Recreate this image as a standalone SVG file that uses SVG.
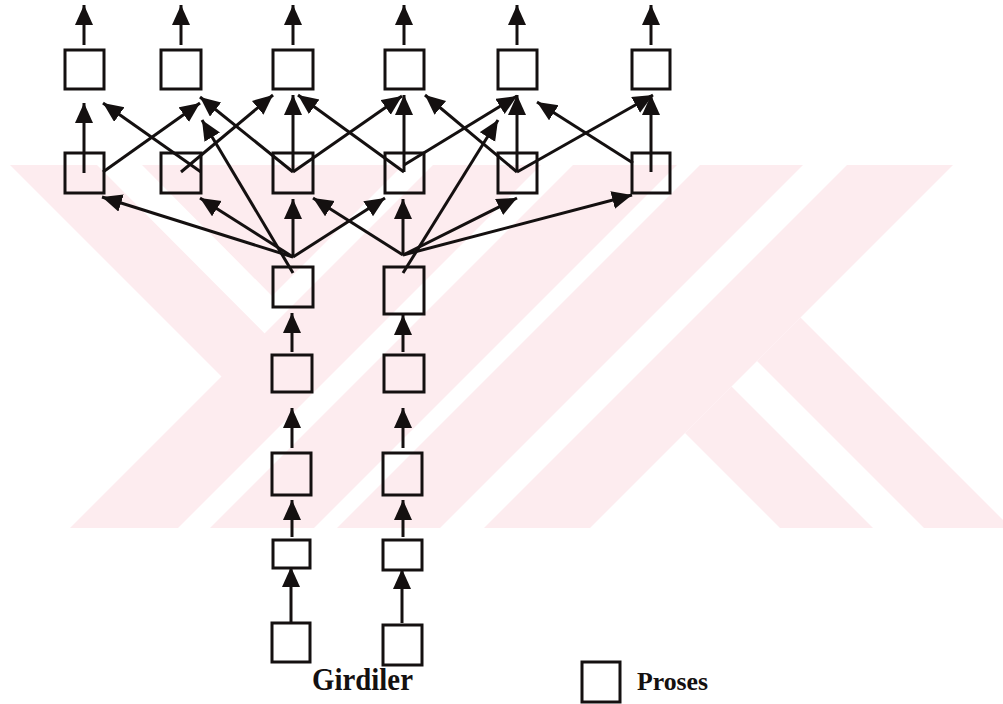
<svg xmlns="http://www.w3.org/2000/svg" width="1003" height="704" viewBox="0 0 1003 704">
  <style>
    .wm { fill: #fdecef; stroke: none; }
    .box { fill: none; stroke: #141010; stroke-width: 3; }
    .ln { fill: none; stroke: #141010; stroke-width: 3; marker-end: url(#ah); }
    .lbl { font-family: "Liberation Serif", "Times New Roman", serif; font-weight: bold; fill: #141010; }
  </style>
  <defs>
    <marker id="ah" markerUnits="userSpaceOnUse" markerWidth="22" markerHeight="20" refX="20" refY="9" orient="auto">
      <path d="M0,0 L20,9 L0,18 z" fill="#141010"/>
    </marker>
  </defs>

  <rect width="1003" height="704" fill="#ffffff"/>

  <!-- background emblem, drawn as 45-degree bands -->
  <g id="watermark">
    <polygon class="wm" points="10,165 97,165 316,385 273,428"/>
    <polygon class="wm" points="142,165 403,165 272,296"/>
    <polygon class="wm" points="433,165 541,165 178,528 70,528"/>
    <polygon class="wm" points="573,165 677,165 314,528 210,528"/>
    <polygon class="wm" points="700,165 803,165 440,528 337,528"/>
    <polygon class="wm" points="847,165 953,165 590,528 484,528"/>
    <polygon class="wm" points="685,433 731.5,386.5 873,528 780,528"/>
    <polygon class="wm" points="757,361 800.5,317.5 1003,520 1003,528 924,528"/>
  </g>

  <g id="connectors">
    <!-- outputs of the top layer -->
    <line class="ln" x1="84" y1="45" x2="84" y2="5"/>
    <line class="ln" x1="181" y1="45" x2="181" y2="5"/>
    <line class="ln" x1="293" y1="45" x2="293" y2="5"/>
    <line class="ln" x1="404" y1="45" x2="404" y2="5"/>
    <line class="ln" x1="517" y1="45" x2="517" y2="5"/>
    <line class="ln" x1="651" y1="45" x2="651" y2="5"/>

    <!-- second layer to top layer -->
    <line class="ln" x1="84" y1="173" x2="84" y2="103"/>
    <line class="ln" x1="103" y1="172" x2="200" y2="103"/>
    <line class="ln" x1="201" y1="172" x2="103" y2="103"/>
    <line class="ln" x1="181" y1="172" x2="273" y2="95"/>
    <line class="ln" x1="293" y1="172" x2="293" y2="95"/>
    <line class="ln" x1="293" y1="172" x2="200" y2="97"/>
    <line class="ln" x1="293" y1="172" x2="402" y2="96"/>
    <line class="ln" x1="404" y1="172" x2="404" y2="95"/>
    <line class="ln" x1="404" y1="172" x2="298" y2="95"/>
    <line class="ln" x1="404" y1="165" x2="517" y2="96"/>
    <line class="ln" x1="517" y1="172" x2="517" y2="95"/>
    <line class="ln" x1="517" y1="172" x2="425" y2="95"/>
    <line class="ln" x1="517" y1="172" x2="653" y2="95"/>
    <line class="ln" x1="651" y1="172" x2="651" y2="95"/>
    <line class="ln" x1="633" y1="163" x2="537" y2="102"/>

    <!-- long links from the third layer -->
    <line class="ln" x1="293" y1="273" x2="202" y2="120"/>
    <line class="ln" x1="403" y1="273" x2="498" y2="120"/>

    <!-- fan-out of the third layer -->
    <line class="ln" x1="293" y1="257" x2="102" y2="197"/>
    <line class="ln" x1="293" y1="257" x2="200" y2="198"/>
    <line class="ln" x1="293" y1="257" x2="293" y2="199"/>
    <line class="ln" x1="293" y1="257" x2="385" y2="198"/>
    <line class="ln" x1="403" y1="255" x2="313" y2="198"/>
    <line class="ln" x1="403" y1="255" x2="403" y2="199"/>
    <line class="ln" x1="403" y1="255" x2="517" y2="198"/>
    <line class="ln" x1="403" y1="255" x2="632" y2="195"/>

    <!-- input chains -->
    <line class="ln" x1="292" y1="352" x2="292" y2="313"/>
    <line class="ln" x1="403" y1="352" x2="403" y2="315"/>
    <line class="ln" x1="292" y1="448" x2="292" y2="408"/>
    <line class="ln" x1="403" y1="448" x2="403" y2="408"/>
    <line class="ln" x1="292" y1="537" x2="292" y2="500"/>
    <line class="ln" x1="403" y1="537" x2="403" y2="500"/>
    <line class="ln" x1="291" y1="622" x2="291" y2="567"/>
    <line class="ln" x1="402" y1="623" x2="402" y2="569"/>
  </g>

  <!-- top layer -->
  <g id="t1"><rect class="box" x="65" y="50" width="39" height="39"/></g>
  <g id="t2"><rect class="box" x="161" y="50" width="40" height="39"/></g>
  <g id="t3"><rect class="box" x="273" y="50" width="40" height="39"/></g>
  <g id="t4"><rect class="box" x="385" y="50" width="39" height="39"/></g>
  <g id="t5"><rect class="box" x="498" y="50" width="39" height="39"/></g>
  <g id="t6"><rect class="box" x="632" y="50" width="38" height="39"/></g>

  <!-- second layer -->
  <g id="s1"><rect class="box" x="65" y="153" width="39" height="40"/></g>
  <g id="s2"><rect class="box" x="161" y="153" width="40" height="40"/></g>
  <g id="s3"><rect class="box" x="273" y="153" width="40" height="40"/></g>
  <g id="s4"><rect class="box" x="385" y="153" width="39" height="40"/></g>
  <g id="s5"><rect class="box" x="498" y="153" width="39" height="40"/></g>
  <g id="s6"><rect class="box" x="632" y="153" width="38" height="40"/></g>

  <!-- third layer -->
  <g id="h1"><rect class="box" x="273" y="267" width="40" height="40"/></g>
  <g id="h2"><rect class="box" x="384" y="267" width="40" height="47"/></g>

  <!-- input chain, left -->
  <g id="a1"><rect class="box" x="272" y="355" width="40" height="37"/></g>
  <g id="a2"><rect class="box" x="272" y="453" width="39" height="42"/></g>
  <g id="a3"><rect class="box" x="273" y="540" width="37" height="28"/></g>
  <g id="a4"><rect class="box" x="272" y="623" width="38" height="39"/></g>

  <!-- input chain, right -->
  <g id="b1"><rect class="box" x="384" y="355" width="40" height="37"/></g>
  <g id="b2"><rect class="box" x="383" y="453" width="39" height="42"/></g>
  <g id="b3"><rect class="box" x="383" y="540" width="39" height="30"/></g>
  <g id="b4"><rect class="box" x="383" y="625" width="39" height="40"/></g>

  <g id="inputs-label">
    <text class="lbl" x="312" y="690" font-size="31" textLength="101" lengthAdjust="spacingAndGlyphs">Girdiler</text>
  </g>

  <g id="legend">
    <rect class="box" x="582" y="662" width="38" height="40"/>
    <text class="lbl" x="637" y="690" font-size="26" textLength="71" lengthAdjust="spacingAndGlyphs">Proses</text>
  </g>
</svg>
